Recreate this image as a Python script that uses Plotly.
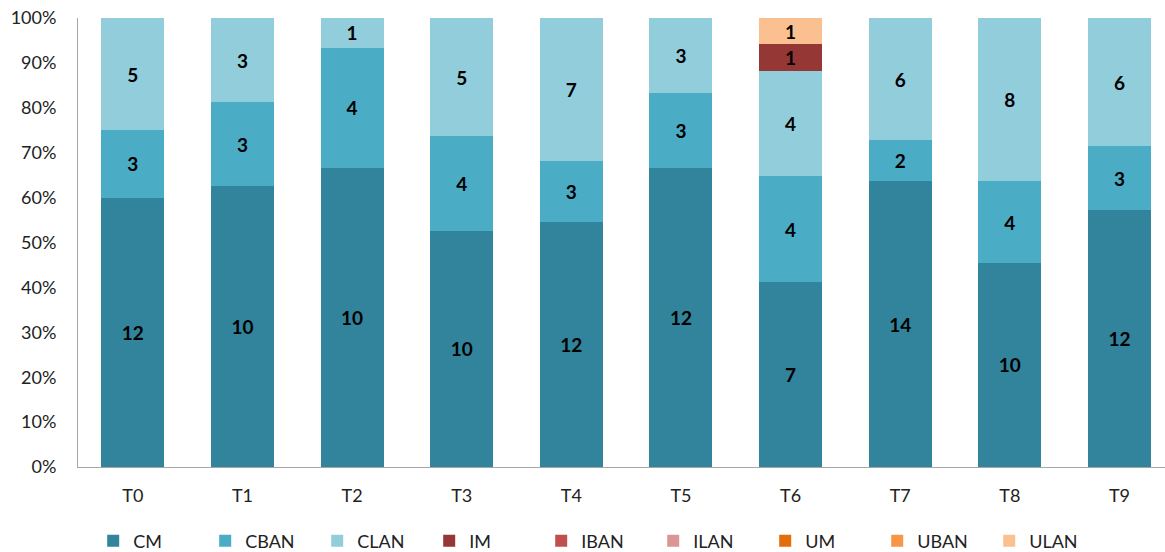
import plotly.graph_objects as go

categories = ["T0", "T1", "T2", "T3", "T4", "T5", "T6", "T7", "T8", "T9"]
series_names = ["CM", "CBAN", "CLAN", "IM", "IBAN", "ILAN", "UM", "UBAN", "ULAN"]
CM   = [12, 10, 10, 10, 12, 12, 7, 14, 10, 12]
CBAN = [3, 3, 4, 4, 3, 3, 4, 2, 4, 3]
CLAN = [5, 3, 1, 5, 7, 3, 4, 6, 8, 6]
IM   = [0, 0, 0, 0, 0, 0, 1, 0, 0, 0]
IBAN = [0, 0, 0, 0, 0, 0, 0, 0, 0, 0]
ILAN = [0, 0, 0, 0, 0, 0, 0, 0, 0, 0]
UM   = [0, 0, 0, 0, 0, 0, 0, 0, 0, 0]
UBAN = [0, 0, 0, 0, 0, 0, 0, 0, 0, 0]
ULAN = [0, 0, 0, 0, 0, 0, 1, 0, 0, 0]
colors = ["#31849B", "#4BACC6", "#92CDDC", "#953735", "#C0504D",
          "#D99694", "#E46C0A", "#F79646", "#FAC090"]
y_ticks = [0, 10, 20, 30, 40, 50, 60, 70, 80, 90, 100]
y_tick_labels = ["0%", "10%", "20%", "30%", "40%", "50%", "60%", "70%", "80%", "90%", "100%"]

values = [CM, CBAN, CLAN, IM, IBAN, ILAN, UM, UBAN, ULAN]
FONT = "Lato"

fig = go.Figure()
for name, vals, col in zip(series_names, values, colors):
    fig.add_trace(go.Bar(
        name=name, x=categories, y=vals,
        marker=dict(color=col, line=dict(width=0)),
        text=[str(v) if v else "" for v in vals],
        textposition="inside", insidetextanchor="middle", textangle=0,
        constraintext="none",
        textfont=dict(family=FONT, size=19, color="black", weight="bold"),
        hoverinfo="skip",
    ))

fig.update_layout(
    barmode="stack", barnorm="percent", bargap=0.425,
    width=1165, height=552,
    margin=dict(l=78, r=0, t=18, b=85, autoexpand=False),
    paper_bgcolor="white", plot_bgcolor="white",
    font=dict(family=FONT, size=18, color="#222222"),
    showlegend=True,
    legend=dict(orientation="h", xref="container", yref="container",
                x=0.080, xanchor="left", y=0.02, yanchor="middle",
                entrywidth=67, entrywidthmode="pixels",
                font=dict(family=FONT, size=18, color="#222222"),
                traceorder="normal", itemclick=False),
    uniformtext=dict(mode=False),
)
fig.update_xaxes(
    range=[-0.5, 9.415], showgrid=False, showline=True, linecolor="#A6A6A6",
    linewidth=1, ticks="", ticklabelstandoff=12, tickfont=dict(size=18),
)
fig.update_yaxes(
    range=[0, 100], tickmode="array", tickvals=y_ticks, ticktext=y_tick_labels,
    showgrid=False, showline=True, linecolor="#A6A6A6", linewidth=1, ticks="",
    ticklabelstandoff=17, zeroline=False, tickfont=dict(size=18),
)

fig.write_html("out.html", config={"displayModeBar": False},
               post_script="document.body.style.margin='0';")
